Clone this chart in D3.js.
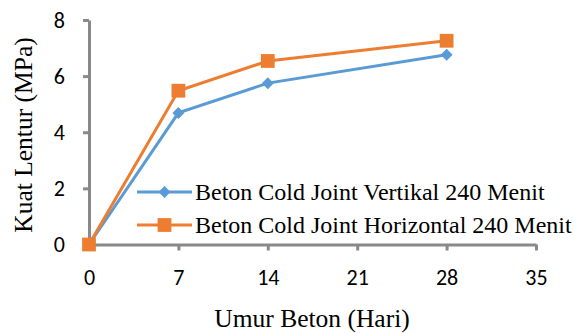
<!DOCTYPE html>
<html>
<head>
<meta charset="utf-8">
<script src="https://cdn.jsdelivr.net/npm/d3@7"></script>
<style>
  body { margin: 0; background: #fff; }
  svg { display: block; }
  .serif { font-family: 'Liberation Serif', 'Times New Roman', serif; }
  .sans { font-family: Carlito, 'Open Sans', sans-serif; }
</style>
</head>
<body>
<svg id="chart" width="574" height="333"></svg>
<script>
const days = [0, 7, 14, 28];
const vertikal = [0, 4.69, 5.75, 6.76];
const horizontal = [0, 5.48, 6.54, 7.26];
const xTicks = [0, 7, 14, 21, 28, 35];
const yTicks = [0, 2, 4, 6, 8];
const seriesNames = ['Beton Cold Joint Vertikal 240 Menit', 'Beton Cold Joint Horizontal 240 Menit'];

const svg = d3.select('#chart');
const x = d3.scaleLinear().domain([0, 35]).range([89, 536]);
const y = d3.scaleLinear().domain([0, 8]).range([244.5, 20]);
const axisColor = '#898989';

const xAxis = svg.append('g')
  .attr('transform', `translate(0,${y(0)})`)
  .call(d3.axisBottom(x).tickValues(xTicks).tickSize(6).tickSizeOuter(0).tickPadding(19));
const yAxis = svg.append('g')
  .attr('transform', `translate(${x(0)},0)`)
  .call(d3.axisLeft(y).tickValues(yTicks).tickSize(6).tickSizeOuter(0).tickPadding(18));

[xAxis, yAxis].forEach(g => {
  g.attr('font-family', null).attr('font-size', null);
  g.select('.domain').attr('stroke', axisColor).attr('stroke-width', 3);
  g.selectAll('.tick line').attr('stroke', axisColor).attr('stroke-width', 3);
  g.selectAll('.tick text')
    .attr('class', 'sans')
    .attr('fill', '#000')
    .style('font-size', '22px');
});

// diamond = square turned 45 degrees
const series = [
  { name: seriesNames[0], values: vertikal, color: '#5B9BD5', shape: d3.symbolSquare, size: 72, rot: 45 },
  { name: seriesNames[1], values: horizontal, color: '#ED7D31', shape: d3.symbolSquare, size: 190, rot: 0 }
];

const line = d3.line().x(d => x(d[0])).y(d => y(d[1]));

series.forEach(s => {
  const pts = days.map((d, i) => [d, s.values[i]]);
  svg.append('path')
    .attr('d', line(pts))
    .attr('fill', 'none')
    .attr('stroke', s.color)
    .attr('stroke-width', 3);
  svg.selectAll(null)
    .data(pts)
    .enter()
    .append('path')
    .attr('d', d3.symbol().type(s.shape).size(s.size))
    .attr('transform', d => `translate(${x(d[0])},${y(d[1])}) rotate(${s.rot})`)
    .attr('fill', s.color);
});

// legend
const legend = svg.append('g');
series.forEach((s, i) => {
  const ly = 192 + i * 33;
  legend.append('line')
    .attr('x1', 137).attr('x2', 192)
    .attr('y1', ly).attr('y2', ly)
    .attr('stroke', s.color)
    .attr('stroke-width', 3);
  legend.append('path')
    .attr('d', d3.symbol().type(s.shape).size(s.size))
    .attr('transform', `translate(164.5,${ly}) rotate(${s.rot})`)
    .attr('fill', s.color);
  legend.append('text')
    .attr('class', 'serif')
    .attr('x', 195).attr('y', ly + 8)
    .style('font-size', '24px')
    .text(s.name);
});

svg.append('text')
  .attr('class', 'serif')
  .attr('x', 312).attr('y', 327)
  .attr('text-anchor', 'middle')
  .style('font-size', '25.5px')
  .text('Umur Beton (Hari)');

svg.append('text')
  .attr('class', 'serif')
  .attr('transform', 'translate(32,135) rotate(-90)')
  .attr('text-anchor', 'middle')
  .style('font-size', '25.5px')
  .text('Kuat Lentur (MPa)');
</script>
</body>
</html>
